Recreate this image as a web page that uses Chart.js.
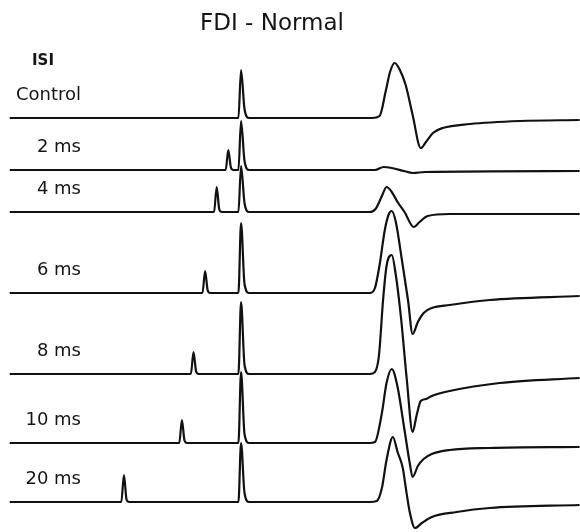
<!DOCTYPE html>
<html>
<head>
<meta charset="utf-8">
<script src="https://cdn.jsdelivr.net/npm/chart.js@4.4.1/dist/chart.umd.min.js"></script>
<style>
html,body{margin:0;padding:0;background:#fff}
#wrap{width:580px;height:532px}
</style>
</head>
<body>
<div id="wrap"><canvas id="c" width="580" height="532"></canvas></div>
<script>
// ISI conditions, top to bottom
const isiLabels=['Control','2 ms','4 ms','6 ms','8 ms','10 ms','20 ms']
const isiMs=[null,2,4,6,8,10,20]
// stimulus artifact heights (mV)
const condArtifactMv=[0,0.40,0.50,0.44,0.44,0.46,0.54]
const testArtifactMv=[0.96,0.98,0.92,1.40,1.44,1.42,1.18]
// MEP after the test pulse: [ms after test stimulus, mV]
const mepControl=[[22.8,0],[24.1,0.04],[25.2,0.56],[25.9,0.92],[26.7,1.10],[27.6,0.96],[28.6,0.66],[29.8,0.06],[31.2,-0.60],[32.1,-0.48],[33.3,-0.30],[35.0,-0.20],[39.7,-0.12],[48.3,-0.06],[58.6,-0.04]]
const mep2=[[23.3,0],[24.8,0.06],[26.2,0.04],[28.3,-0.02],[29.8,-0.06],[31.9,-0.04],[58.6,-0.02]]
const mep4=[[22.4,0],[23.4,0.06],[24.5,0.32],[25.3,0.50],[26.2,0.40],[27.2,0.20],[28.4,0],[30.0,-0.30],[31.0,-0.20],[32.4,-0.08],[36.2,-0.04],[58.6,-0.04]]
const mep6=[[22.4,0],[23.3,0.10],[24.1,0.56],[25.0,1.26],[25.7,1.58],[26.2,1.64],[26.9,1.42],[27.9,0.70],[29.0,-0.14],[29.8,-0.82],[30.7,-0.58],[31.7,-0.40],[33.1,-0.30],[36.2,-0.24],[43.1,-0.14],[58.6,-0.06]]
const mep8=[[22.4,0],[23.3,0.04],[24.0,0.38],[24.7,1.48],[25.3,2.16],[26.2,2.38],[26.9,1.98],[27.8,1.12],[28.8,-0.12],[29.8,-1.16],[30.5,-0.82],[31.2,-0.54],[32.1,-0.50],[33.1,-0.44],[36.2,-0.34],[44.8,-0.18],[58.6,-0.08]]
const mep10=[[22.4,0],[23.3,0.02],[24.5,0.60],[25.3,1.20],[26.2,1.48],[27.2,1.12],[28.4,0.26],[29.3,-0.40],[29.8,-0.68],[30.7,-0.46],[31.7,-0.32],[33.1,-0.22],[36.2,-0.14],[43.1,-0.10],[58.6,-0.08]]
const mep20=[[22.4,0],[23.6,0.02],[24.5,0.28],[25.3,0.84],[26.4,1.30],[27.2,1.00],[28.1,0.68],[28.6,0.30],[29.3,-0.20],[30.2,-0.52],[31.4,-0.42],[33.1,-0.30],[37.4,-0.20],[43.1,-0.12],[58.6,-0.06]]
const meps=[mepControl,mep2,mep4,mep6,mep8,mep10,mep20]

// layout: vertical stacking of traces (mV above bottom)
const traceOffset=[8.28,7.24,6.40,4.78,3.16,1.78,0.60]

function buildTrace(i){
  const off=traceOffset[i]
  const pts=[{x:-39.7,y:off}]
  const isi=isiMs[i]
  if(isi){
    const c=-isi,h=condArtifactMv[i]
    pts.push({x:c-0.45,y:off},{x:c,y:off+h},{x:c+0.45,y:off+0.05},{x:c+0.9,y:off})
  }
  const h=testArtifactMv[i]
  pts.push({x:-0.25,y:off},{x:0.2,y:off+h},{x:0.8,y:off+0.18},{x:1.6,y:off})
  meps[i].forEach(p=>pts.push({x:p[0],y:off+p[1]}))
  return pts
}

const datasets=isiLabels.map((lab,i)=>({
  label:lab,
  data:buildTrace(i),
  borderColor:'#111',
  borderWidth:2.2,
  pointRadius:0,
  cubicInterpolationMode:'monotone',
  clip:false
}))

const textPlugin={
  id:'traceText',
  afterDatasetsDraw(chart){
    const ctx=chart.ctx, ys=chart.scales.y
    ctx.save()
    ctx.fillStyle='#151515'
    ctx.textBaseline='alphabetic'
    ctx.font='23px "DejaVu Sans"'
    ctx.textAlign='center'
    ctx.fillText('FDI - Normal',272,30)
    ctx.font='bold 15px "DejaVu Sans"'
    ctx.textAlign='left'
    ctx.fillText('ISI',32,65)
    ctx.font='18px "DejaVu Sans"'
    ctx.textAlign='right'
    isiLabels.forEach((lab,i)=>{
      ctx.fillText(lab,81,ys.getPixelForValue(traceOffset[i])-18)
    })
    ctx.restore()
  }
}

new Chart(document.getElementById('c').getContext('2d'),{
  type:'line',
  data:{datasets},
  options:{
    responsive:false,animation:false,devicePixelRatio:1,
    layout:{padding:{left:8,right:1,top:40,bottom:0}},
    plugins:{legend:{display:false},tooltip:{enabled:false},title:{display:false}},
    scales:{
      x:{type:'linear',min:-40,max:58.5,display:false},
      y:{type:'linear',min:0,max:9.84,display:false}
    }
  },
  plugins:[textPlugin]
})
</script>
</body>
</html>
